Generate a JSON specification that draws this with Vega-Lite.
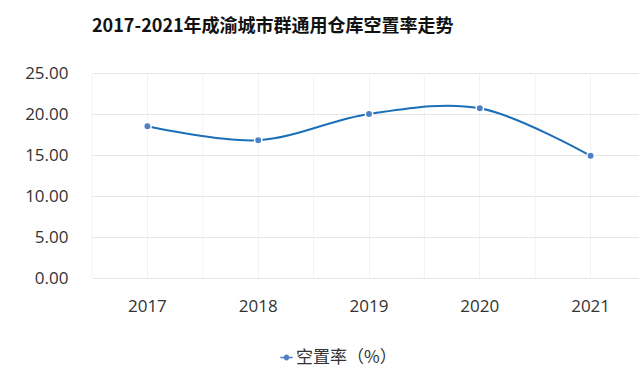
{
  "$schema": "https://vega.github.io/schema/vega-lite/v6.json",
  "autosize": {"type": "none"},
  "padding": {"left": 92, "top": 73, "right": 0, "bottom": 95},
  "width": 554,
  "height": 205,
  "background": "white",
  "title": {
    "text": "2017-2021年成渝城市群通用仓库空置率走势",
    "font": "Noto Sans CJK SC",
    "fontSize": 18,
    "fontWeight": "bold",
    "color": "#111111",
    "anchor": "start",
    "frame": "group",
    "offset": 28
  },
  "data": {
    "values": [
      {"year": "2017", "rate": 18.5, "series": "空置率（%）"},
      {"year": "2018", "rate": 16.8, "series": "空置率（%）"},
      {"year": "2019", "rate": 20.0, "series": "空置率（%）"},
      {"year": "2020", "rate": 20.7, "series": "空置率（%）"},
      {"year": "2021", "rate": 14.9, "series": "空置率（%）"}
    ]
  },
  "encoding": {
    "x": {
      "field": "year",
      "type": "ordinal",
      "scale": {"paddingInner": 0, "paddingOuter": 0},
      "axis": {
        "title": null,
        "labelAngle": 0,
        "labelFont": "Open Sans",
        "labelFontSize": 17,
        "labelColor": "#333333",
        "labelPadding": 20,
        "domain": false,
        "ticks": false,
        "grid": true,
        "gridColor": "#f2f2f4",
        "bandPosition": 0.5
      }
    },
    "y": {
      "field": "rate",
      "type": "quantitative",
      "scale": {"domain": [0, 25], "nice": false, "zero": true},
      "axis": {
        "title": null,
        "values": [0, 5, 10, 15, 20, 25],
        "format": ".2f",
        "labelFont": "Open Sans",
        "labelFontSize": 17,
        "labelColor": "#333333",
        "labelPadding": 24,
        "domain": false,
        "ticks": false,
        "grid": true,
        "gridColor": "#e6e6e6"
      }
    }
  },
  "layer": [
    {
      "mark": {"type": "rule", "color": "#f2f2f4", "strokeWidth": 1},
      "encoding": {
        "x": {"field": "year", "type": "ordinal", "bandPosition": 0},
        "y": {"datum": 0},
        "y2": {"datum": 25}
      }
    },
    {
      "mark": {"type": "line", "interpolate": "catmull-rom", "color": "#1a6fb8", "strokeWidth": 2},
      "encoding": {}
    },
    {
      "mark": {"type": "point", "filled": true, "size": 55, "opacity": 1, "stroke": "white", "strokeWidth": 1.5},
      "encoding": {
        "color": {
          "field": "series",
          "type": "nominal",
          "scale": {"range": ["#4f7fc4"]},
          "legend": {
            "title": null,
            "orient": "none",
            "legendX": 186,
            "legendY": 276,
            "symbolType": "M-1.6,0H-0.7M0.7,0H1.6M0,-0.55A0.55,0.55 0 1 1 0,0.55A0.55,0.55 0 1 1 0,-0.55Z",
            "symbolSize": 60,
            "symbolStrokeColor": "#4f7fc4",
            "symbolStrokeWidth": 1.5,
            "labelFont": "Noto Sans CJK SC",
            "labelFontSize": 17,
            "labelColor": "#333333",
            "labelOffset": 1
          }
        }
      }
    }
  ],
  "config": {"view": {"stroke": null}}
}
